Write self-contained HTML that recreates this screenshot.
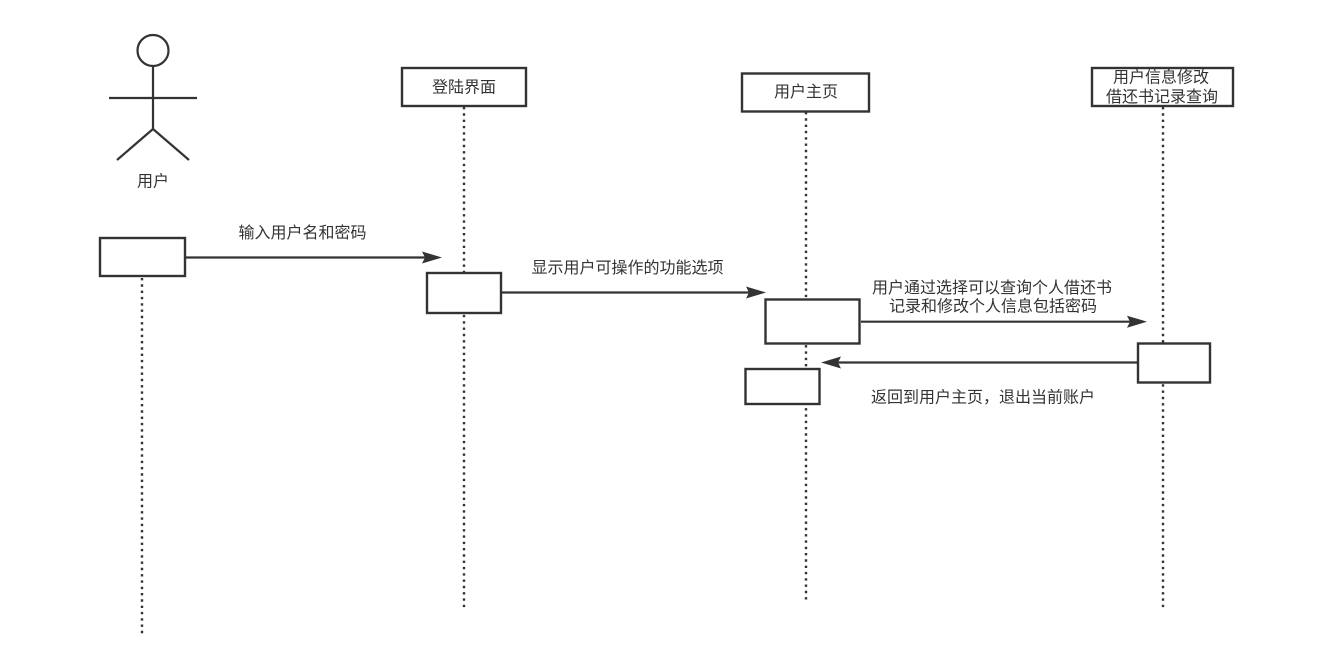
<!DOCTYPE html>
<html>
<head>
<meta charset="utf-8">
<style>
  html, body { margin:0; padding:0; background:#ffffff; }
  body { width:1321px; height:667px; overflow:hidden; }
  svg { display:block; }
  text { font-family: "Liberation Sans", "Noto Sans CJK SC", sans-serif; font-size:16px; fill:#333333; }
</style>
</head>
<body>
<svg width="1321" height="667" viewBox="0 0 1321 667" xmlns="http://www.w3.org/2000/svg">
  <!-- Lifelines (dotted) -->
  <g stroke="#333333" stroke-width="2.4" stroke-dasharray="2.4 3.9" fill="none">
    <line x1="142" y1="278" x2="142" y2="636"/>
    <line x1="464" y1="107" x2="464" y2="608"/>
    <line x1="806" y1="112" x2="806" y2="602"/>
    <line x1="1163" y1="107" x2="1163" y2="608"/>
  </g>

  <!-- Actor -->
  <g stroke="#333333" stroke-width="2.2" fill="none">
    <circle cx="153" cy="50.5" r="15.5" fill="#ffffff"/>
    <line x1="153" y1="66" x2="153" y2="129"/>
    <line x1="109" y1="98" x2="197" y2="98"/>
    <line x1="153" y1="129" x2="117" y2="160"/>
    <line x1="153" y1="129" x2="189" y2="160"/>
  </g>
  <text x="153" y="182" text-anchor="middle" dominant-baseline="central">用户</text>

  <!-- Header boxes -->
  <g stroke="#333333" stroke-width="2.4" fill="#ffffff">
    <rect x="402" y="68" width="124" height="38"/>
    <rect x="742" y="73.5" width="127" height="38"/>
    <rect x="1092" y="68" width="141" height="38"/>
  </g>
  <text x="464" y="88" text-anchor="middle" dominant-baseline="central">登陆界面</text>
  <text x="806" y="92.5" text-anchor="middle" dominant-baseline="central">用户主页</text>
  <text x="1161" y="78" text-anchor="middle" dominant-baseline="central">用户信息修改</text>
  <text x="1162" y="97.5" text-anchor="middle" dominant-baseline="central">借还书记录查询</text>

  <!-- Activation boxes -->
  <g stroke="#333333" stroke-width="2.4" fill="#ffffff">
    <rect x="100" y="238" width="85" height="38"/>
    <rect x="427" y="273" width="74" height="40"/>
    <rect x="765.5" y="299.5" width="94" height="44"/>
    <rect x="745.5" y="369" width="74" height="35"/>
    <rect x="1138" y="343.5" width="72" height="39"/>
  </g>

  <!-- Messages -->
  <g stroke="#333333" stroke-width="2.2" fill="none">
    <line x1="186" y1="257.5" x2="425" y2="257.5"/>
    <line x1="502" y1="292.5" x2="749" y2="292.5"/>
    <line x1="861" y1="321.7" x2="1130" y2="321.7"/>
    <line x1="1137" y1="362.5" x2="838" y2="362.5"/>
  </g>
  <g fill="#333333">
    <polygon points="442,257.5 422,251.5 425,257.5 422,263.5"/>
    <polygon points="766,292.5 746,286.5 749,292.5 746,298.5"/>
    <polygon points="1147,321.7 1127,315.7 1130,321.7 1127,327.7"/>
    <polygon points="821,362.5 841,356.5 838,362.5 841,368.5"/>
  </g>

  <!-- Message labels -->
  <text x="302.5" y="233.5" text-anchor="middle" dominant-baseline="central">输入用户名和密码</text>
  <text x="627.5" y="268.5" text-anchor="middle" dominant-baseline="central">显示用户可操作的功能选项</text>
  <text x="992" y="288.3" text-anchor="middle" dominant-baseline="central">用户通过选择可以查询个人借还书</text>
  <text x="993" y="306.8" text-anchor="middle" dominant-baseline="central">记录和修改个人信息包括密码</text>
  <text x="871" y="397.8" dominant-baseline="central">返回到用户主页，退出当前账户</text>
</svg>
</body>
</html>
